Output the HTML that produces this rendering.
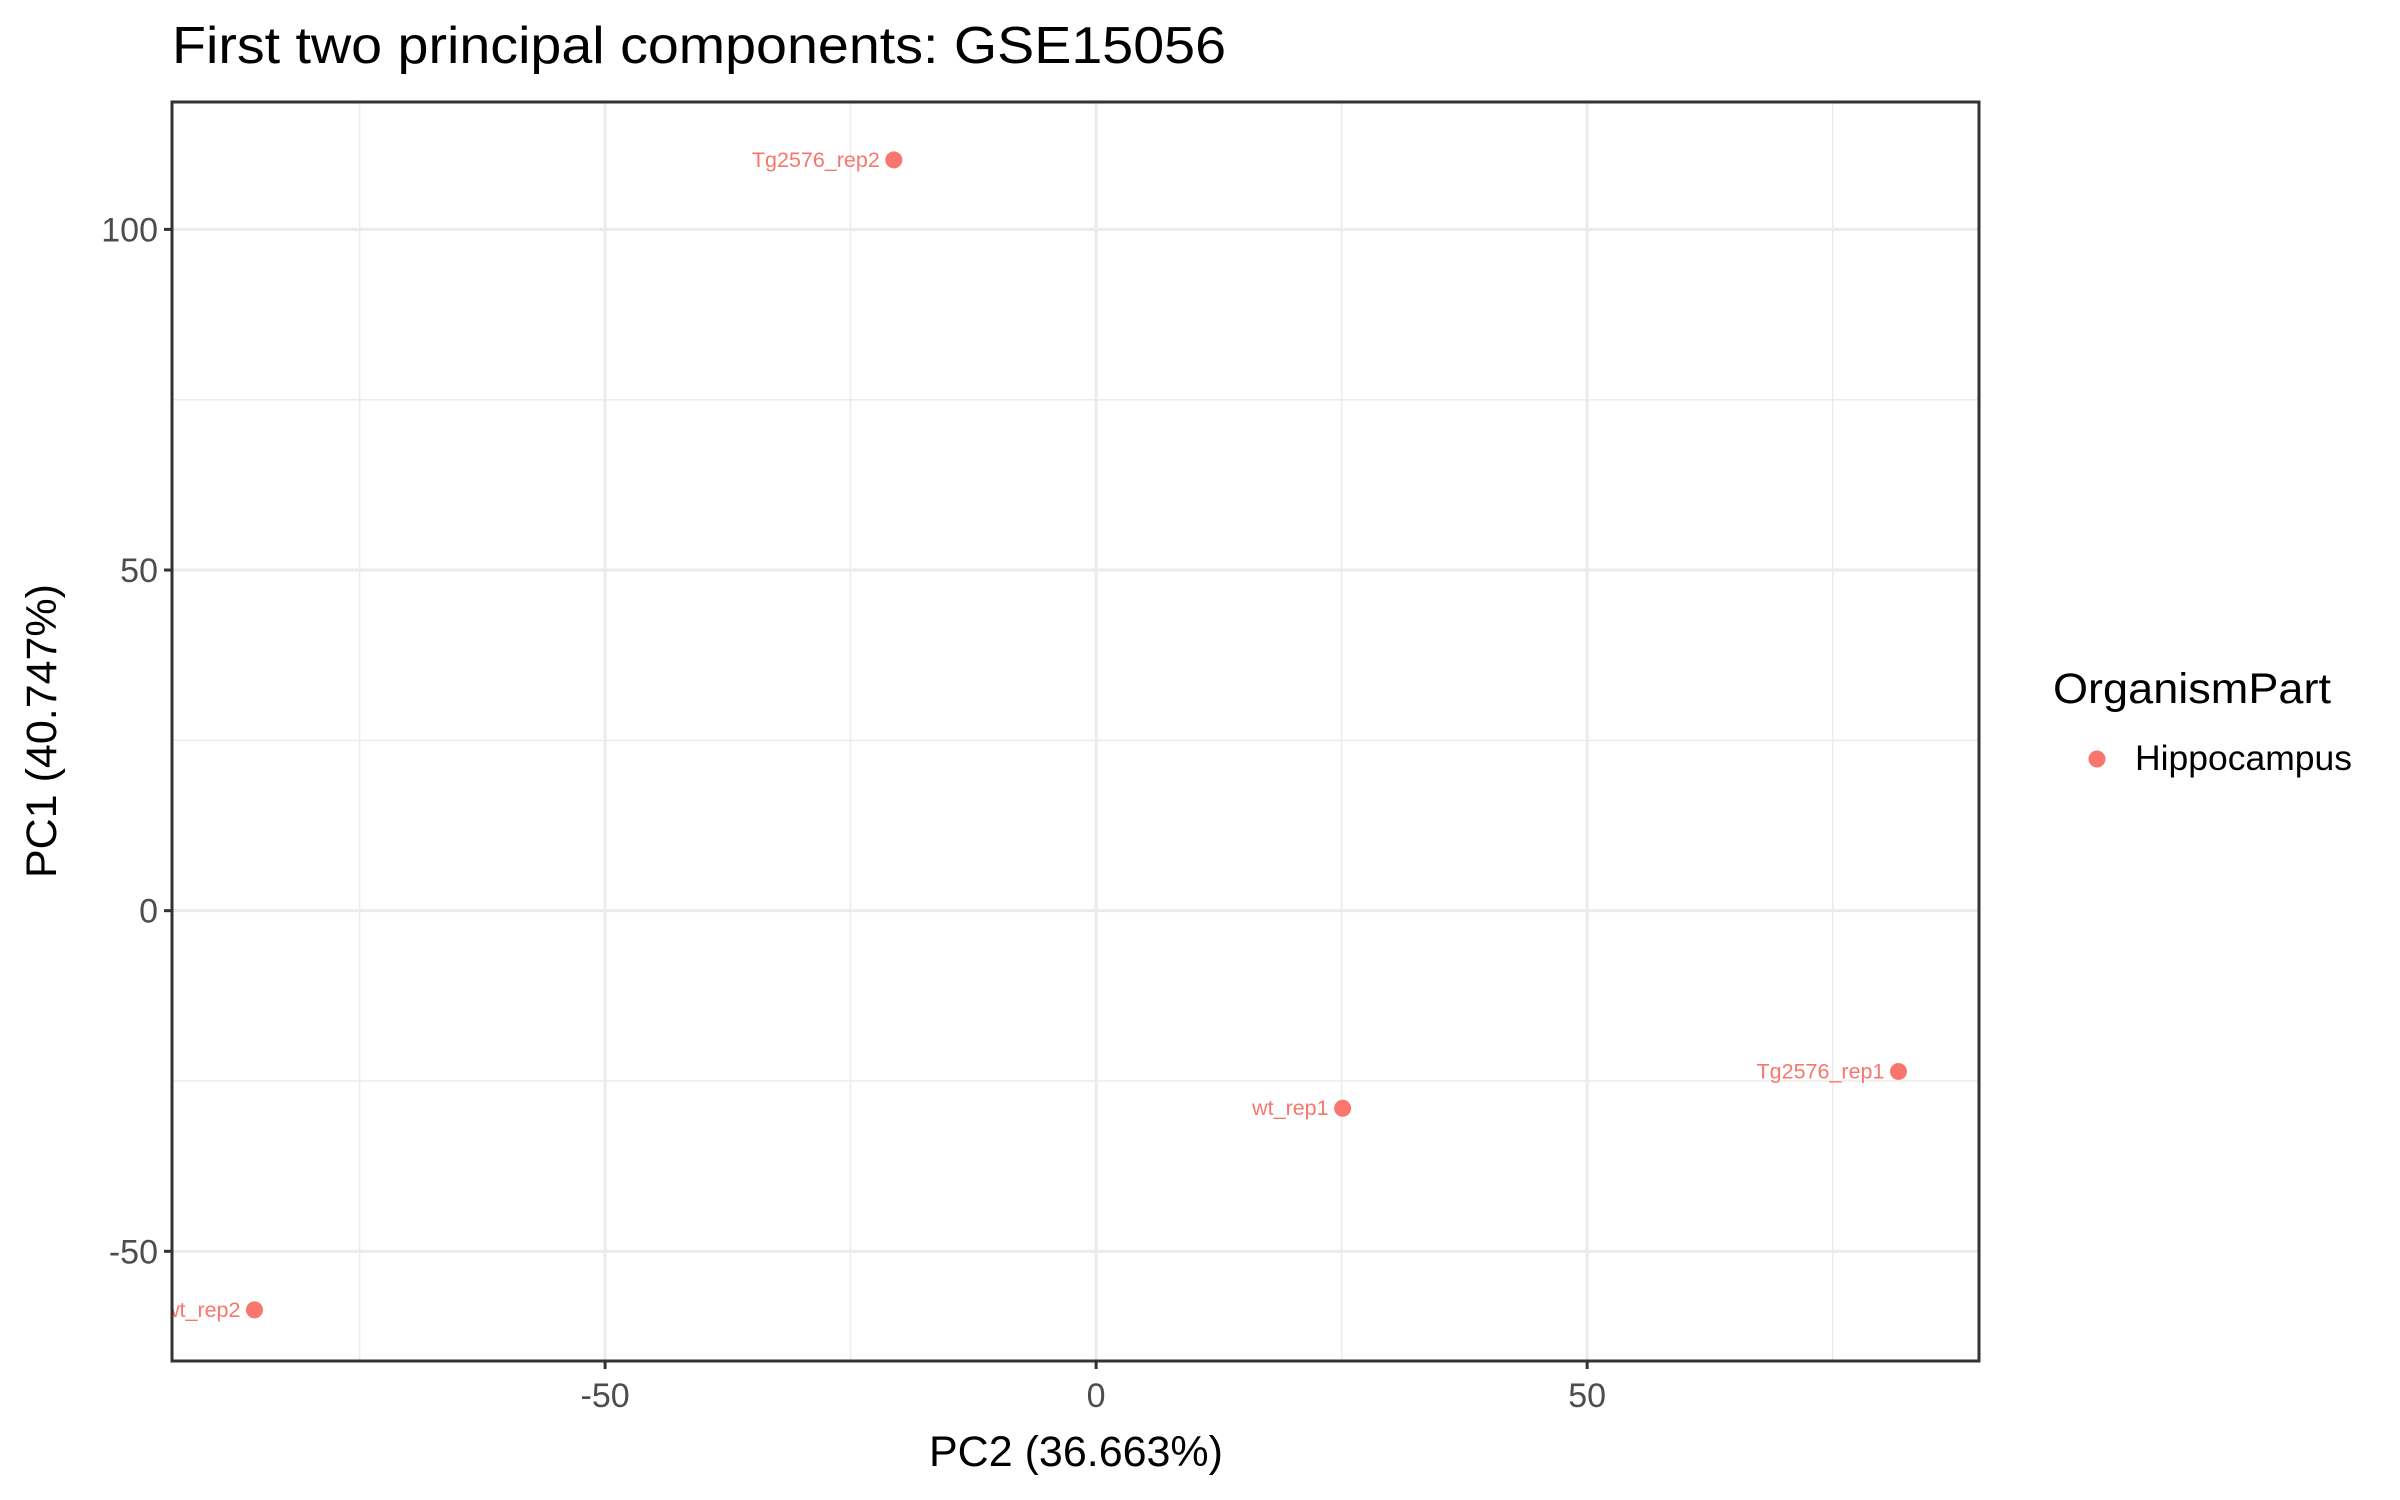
<!DOCTYPE html>
<html><head><meta charset="utf-8"><style>
html,body{margin:0;padding:0;background:#fff;}
svg{display:block;font-family:"Liberation Sans",sans-serif;}
</style></head><body>
<svg id="chart" width="2400" height="1500" viewBox="0 0 2400 1500"></svg>
<script>
const sampleNames = ["Tg2576_rep2","wt_rep1","Tg2576_rep1","wt_rep2"];
const pc2Values = [-20.6, 25.1, 81.7, -85.7];
const pc1Values = [110.2, -29.0, -23.6, -58.6];
const xTicks = [-50, 0, 50];
const yTicks = [-50, 0, 50, 100];
const xMinor = [-75, -25, 25, 75];
const yMinor = [-25, 25, 75];

const L=172,R=1979,T=102,B=1361;
const xMin=-94.1,xMax=89.9,yMin=-66.1,yMax=118.7;
const sx=v=>L+(v-xMin)/(xMax-xMin)*(R-L);
const sy=v=>B-(v-yMin)/(yMax-yMin)*(B-T);
const svg=document.getElementById('chart');
const NS='http://www.w3.org/2000/svg';
function mk(tag,attrs,parent){const e=document.createElementNS(NS,tag);for(const k in attrs)e.setAttribute(k,attrs[k]);(parent||svg).appendChild(e);return e;}

const clip=mk('clipPath',{id:'pc'});mk('rect',{x:L,y:T,width:R-L,height:B-T},clip);
const grid=mk('g',{'clip-path':'url(#pc)'});


xMinor.forEach(v=>{const l=mk('line',{x1:sx(v),x2:sx(v),y1:T,y2:B,stroke:'#EBEBEB','stroke-width':1.5},grid);});
yMinor.forEach(v=>{const l=mk('line',{x1:L,x2:R,y1:sy(v),y2:sy(v),stroke:'#EBEBEB','stroke-width':1.5},grid);});
xTicks.forEach(v=>{const l=mk('line',{x1:sx(v),x2:sx(v),y1:T,y2:B,stroke:'#EBEBEB','stroke-width':3},grid);});
yTicks.forEach(v=>{const l=mk('line',{x1:L,x2:R,y1:sy(v),y2:sy(v),stroke:'#EBEBEB','stroke-width':3},grid);});

const pts=mk('g',{'clip-path':'url(#pc)'});


sampleNames.forEach((n,i)=>{
  const cx=sx(pc2Values[i]),cy=sy(pc1Values[i]);
  const c=mk('circle',{cx:cx,cy:cy,r:8.5,fill:'#F8766D'},pts);
  
  
  const t=mk('text',{x:cx-14,y:cy+7,'text-anchor':'end','font-size':21.5,fill:'#F8766D'},pts);
  t.textContent=n;
  
  
});

const border=mk('rect',{x:L,y:T,width:R-L,height:B-T,fill:'none',stroke:'#333333','stroke-width':3});



xTicks.forEach(v=>{
  const l=mk('line',{x1:sx(v),x2:sx(v),y1:B,y2:B+8,stroke:'#333','stroke-width':3});
  
  
  const t=mk('text',{x:sx(v),y:B+46,'text-anchor':'middle','font-size':34,fill:'#4D4D4D'});
  t.textContent=String(v);
  
  
});
yTicks.forEach(v=>{
  const l=mk('line',{x1:L-8,x2:L,y1:sy(v),y2:sy(v),stroke:'#333','stroke-width':3});
  
  
  const t=mk('text',{x:L-14,y:sy(v)+12,'text-anchor':'end','font-size':34,fill:'#4D4D4D'});
  t.textContent=String(v);
  
  
});
</script>
<svg width="0" height="0"></svg>
<script>
const s2=document.getElementById('chart');
function tx(attrs,txt,name){const e=document.createElementNS('http://www.w3.org/2000/svg','text');for(const k in attrs)e.setAttribute(k,attrs[k]);e.textContent=txt;


s2.appendChild(e);return e;}
tx({x:172,y:63,'font-size':52,fill:'#000',textLength:1054,lengthAdjust:'spacingAndGlyphs'},'First two principal components: GSE15056','chart-title');
tx({x:1076,y:1466,'text-anchor':'middle','font-size':43,fill:'#000'},'PC2 (36.663%)','x-axis-title');
tx({x:0,y:0,'text-anchor':'middle','font-size':43,fill:'#000',transform:'translate(56,731) rotate(-90)'},'PC1 (40.747%)','y-axis-title');
tx({x:2053,y:703,'font-size':43,fill:'#000',textLength:278,lengthAdjust:'spacingAndGlyphs'},'OrganismPart','legend-title');
const lc=document.createElementNS('http://www.w3.org/2000/svg','circle');
lc.setAttribute('cx',2097);lc.setAttribute('cy',759);lc.setAttribute('r',8.5);lc.setAttribute('fill','#F8766D');


s2.appendChild(lc);
tx({x:2135,y:770,'font-size':35,fill:'#000',textLength:217,lengthAdjust:'spacingAndGlyphs'},'Hippocampus','legend-label-hippocampus');
</script>
</body></html>
